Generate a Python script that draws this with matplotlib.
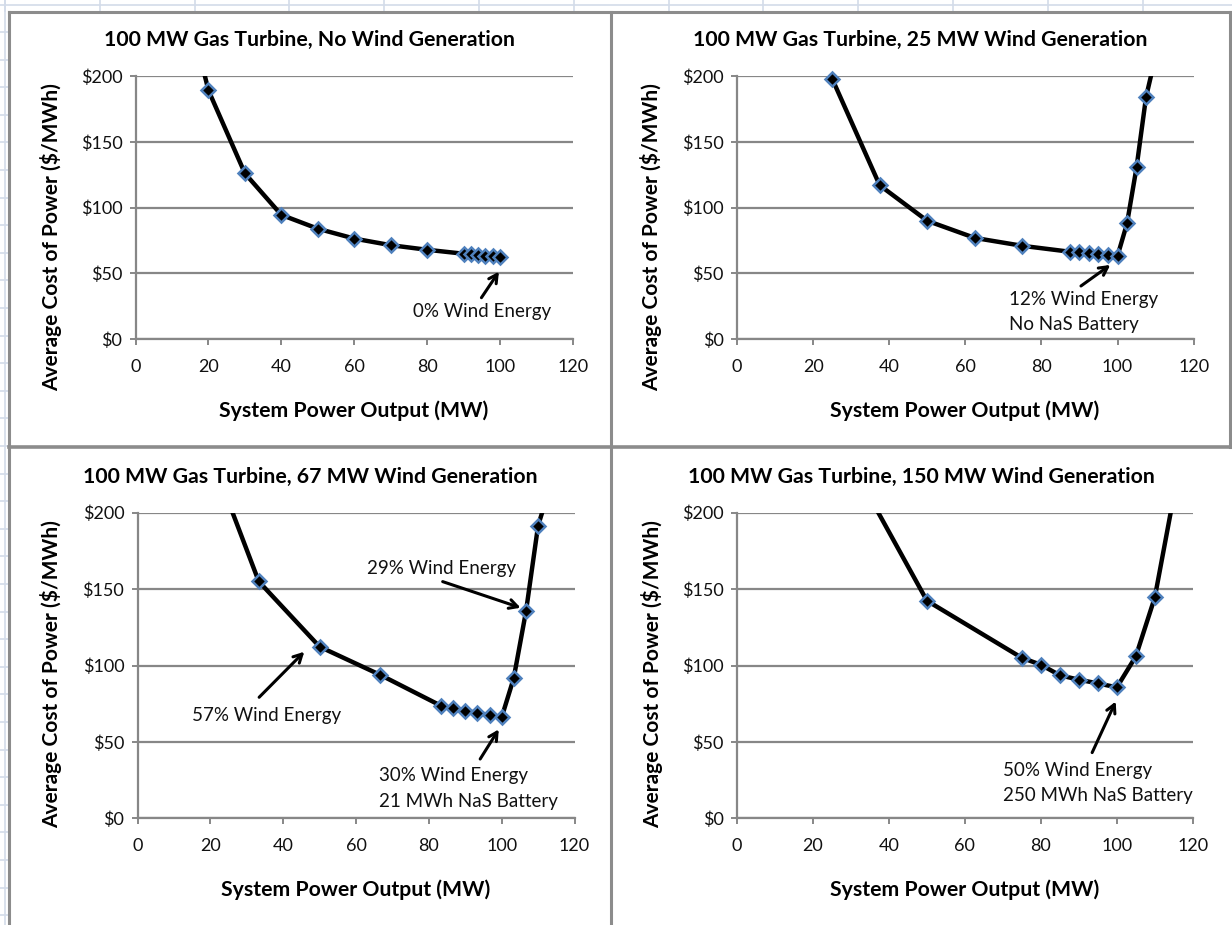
import matplotlib
matplotlib.use("Agg")
import matplotlib.pyplot as plt
import numpy as np
from matplotlib.lines import Line2D
from matplotlib.ticker import FuncFormatter

plt.rcParams['font.family'] = ['Lato', 'DejaVu Sans']

# ---------------- data ----------------
titles = [
    "100 MW Gas Turbine, No Wind Generation",
    "100 MW Gas Turbine, 25 MW Wind Generation",
    "100 MW Gas Turbine, 67 MW Wind Generation",
    "100 MW Gas Turbine, 150 MW Wind Generation",
]
xlabel = "System Power Output (MW)"
ylabel = "Average Cost of Power ($/MWh)"

x_nowind = [10, 20, 30, 40, 50, 60, 70, 80, 90, 92, 94, 96, 98, 100]
y_nowind = [300, 189, 126, 94.5, 84, 76.5, 71.5, 68, 65, 64.5, 64, 63.5, 63, 62.5]

x_25mw = [25, 37.5, 50, 62.5, 75, 87.5, 90, 92.5, 95, 97.5, 100, 102.5, 105, 107.5, 110]
y_25mw = [198, 117, 90, 77, 71, 66.5, 66, 65.3, 64.6, 63.8, 63.3, 88, 130.5, 184, 215]

x_67mw = [16.7, 33.3, 50, 66.7, 83.3, 86.7, 90, 93.3, 96.7, 100, 103.3, 106.7, 110, 113.3]
y_67mw = [259, 155, 112.3, 93.8, 73.7, 72, 70.4, 68.9, 67.6, 66.1, 91.6, 135.7, 191.5, 217]

x_150mw = [25, 50, 75, 80, 85, 90, 95, 100, 105, 110, 115]
y_150mw = [255, 142.4, 105, 100.5, 93.6, 90.7, 88.3, 85.7, 106, 144.6, 211]

xticks = [0, 20, 40, 60, 80, 100, 120]
yticks = [0, 50, 100, 150, 200]

# annotations: (text lines, text x, text y of first line, line step, ha, arrow tail, arrow tip)
notes = [
    [(["0% Wind Energy"], 95, 21, 0, "center", (94.9, 31.6), (99.7, 51.4))],
    [(["12% Wind Energy", "No NaS Battery"], 71.5, 30.6, 19.2, "left", (90.4, 40.5), (98.1, 56.5))],
    [(["29% Wind Energy"], 63.1, 163.6, 0, "left", (83.8, 154.9), (105.2, 137.8)),
     (["57% Wind Energy"], 15.1, 67.6, 0, "left", (33.4, 79.2), (45.8, 109.0)),
     (["30% Wind Energy", "21 MWh NaS Battery"], 66.3, 27.9, 17.0, "left", (94.1, 38.8), (99.2, 58.2))],
    [(["50% Wind Energy", "250 MWh NaS Battery"], 70.0, 31.6, 17.0, "left", (93.5, 43.0), (99.7, 76.4))],
]

series = [(x_nowind, y_nowind), (x_25mw, y_25mw), (x_67mw, y_67mw), (x_150mw, y_150mw)]

# ---------------- layout (pixels) ----------------
W, H = 1232, 925
fig = plt.figure(figsize=(W / 100, H / 100), dpi=100)
fig.patch.set_facecolor("white")

def fx(px):
    return px / W

def fy(py):
    return 1 - py / H

# axes boxes: left, top, right, bottom
boxes = [
    (135.6, 76.0, 572.9, 339.3),
    (737.0, 76.0, 1193.6, 339.3),
    (137.5, 512.7, 574.5, 818.3),
    (737.0, 512.7, 1192.8, 818.3),
]
title_pos = [(310, 40), (920.5, 40), (310, 477), (921, 477)]
ylab_pos = [(51, 237), (651, 237), (51, 674), (652, 674)]
xlab_pos = [(354, 410.7), (965, 410.7), (356, 890), (965, 890)]

# spreadsheet background grid (light blue) in the margins
sheet = "#d3dbe9"
for xv in np.arange(5, W, 94.8):
    fig.add_artist(Line2D([fx(xv), fx(xv)], [fy(0), fy(11)], color=sheet, lw=1.2))
fig.add_artist(Line2D([0, 1], [fy(5), fy(5)], color=sheet, lw=1.2))
fig.add_artist(Line2D([fx(5), fx(5)], [fy(0), fy(H)], color=sheet, lw=1.2))
for yv in np.arange(32, H, 27.6):
    fig.add_artist(Line2D([fx(0), fx(9)], [fy(yv), fy(yv)], color=sheet, lw=1.2))

# chart frames
frame = "#8c8c8c"
fig.add_artist(Line2D([fx(9), fx(1230)], [fy(11.5), fy(11.5)], color=frame, lw=2.2))
fig.add_artist(Line2D([fx(9), fx(9)], [fy(11.5), fy(H)], color=frame, lw=2.2))
fig.add_artist(Line2D([fx(1230), fx(1230)], [fy(11.5), fy(447)], color=frame, lw=2.2))
fig.add_artist(Line2D([fx(611), fx(611)], [fy(11.5), fy(H)], color=frame, lw=2.2))
fig.add_artist(Line2D([fx(9), fx(1232)], [fy(447), fy(447)], color=frame, lw=2.6))

grid_c = "#878787"
money = FuncFormatter(lambda v, p: "$%d" % v)

for i in range(4):
    l, t, r, b = boxes[i]
    ax = fig.add_axes([fx(l), fy(b), fx(r) - fx(l), fy(t) - fy(b)])
    ax.set_xlim(0, 120)
    ax.set_ylim(0, 200)
    ax.set_xticks(xticks)
    ax.set_yticks(yticks)
    ax.yaxis.set_major_formatter(money)
    for s in ("top", "right"):
        ax.spines[s].set_visible(False)
    for s in ("left", "bottom"):
        ax.spines[s].set_color(grid_c)
        ax.spines[s].set_linewidth(1.6)
    ax.grid(axis="y", color=grid_c, lw=1.6)
    ax.set_axisbelow(True)
    ax.tick_params(axis="both", colors=grid_c, length=4.5, width=1.4, labelcolor="#111111",
                   labelsize=13)
    ax.tick_params(axis="x", pad=10)
    ax.tick_params(axis="y", pad=5)

    xs, ys = series[i]
    ax.plot(xs, ys, color="black", lw=3.2, solid_joinstyle="round", zorder=3)
    vis = [(a, c) for a, c in zip(xs, ys) if c <= 200]
    ax.plot([v[0] for v in vis], [v[1] for v in vis], ls="none", marker="D", ms=7.6,
            mfc="black", mec="#4f81bd", mew=1.8, zorder=4, clip_on=False)

    for lines, tx, ty, step, ha, tail, tip in notes[i]:
        for k, line in enumerate(lines):
            ax.text(tx, ty - k * step, line, ha=ha, va="center", fontsize=13.5, color="#111111")
        ax.annotate("", xy=tip, xytext=tail,
                    arrowprops=dict(arrowstyle="->,head_length=0.6,head_width=0.32",
                                    color="black", lw=2.2, shrinkA=0, shrinkB=0))

    fig.text(fx(title_pos[i][0]), fy(title_pos[i][1]), titles[i], ha="center", va="center",
             fontsize=15.3, fontweight="bold", color="black")
    fig.text(fx(ylab_pos[i][0]), fy(ylab_pos[i][1]), ylabel, ha="center", va="center",
             rotation=90, fontsize=15, fontweight="bold", color="black")
    fig.text(fx(xlab_pos[i][0]), fy(xlab_pos[i][1]), xlabel, ha="center", va="center",
             fontsize=15.3, fontweight="bold", color="black")

fig.savefig("out.png", dpi=100, facecolor="white")
